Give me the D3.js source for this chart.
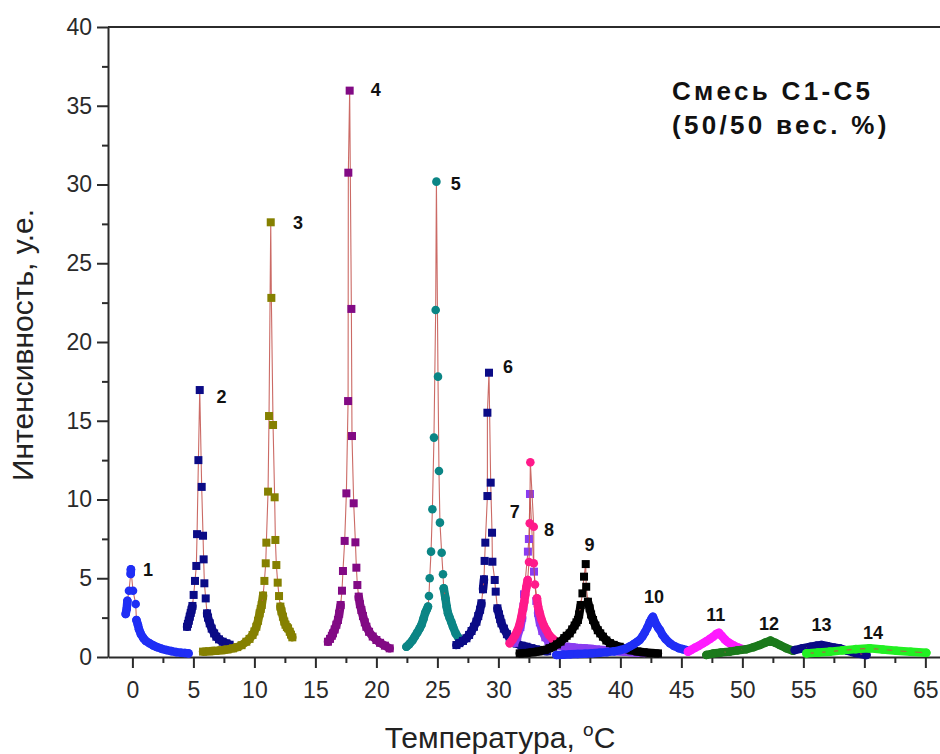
<!DOCTYPE html>
<html>
<head>
<meta charset="utf-8">
<script src="https://cdn.jsdelivr.net/npm/d3@7"></script>
<style>
  body { margin: 0; background: #fff; }
  svg { display: block; }
</style>
</head>
<body>
<div id="chart"></div>
<script>
// peaks: [temperature, intensity]
const peak1 = [[-0.55,2.73],[-0.47,3.05],[-0.41,3.57],[-0.28,4.21],[-0.14,5.27],[-0.12,5.57],[0.05,4.21],[0.27,3.36],[0.33,2.35],[0.45,2.05],[0.54,1.76],[0.7,1.45],[0.9,1.2],[1.1,1.02],[1.4,0.87],[1.7,0.74],[2.0,0.63],[2.4,0.52],[2.8,0.44],[3.2,0.37],[3.6,0.31],[4.0,0.27],[4.3,0.25],[4.6,0.23]];
const peak2 = [[4.48,1.92],[4.55,2.1],[4.62,2.3],[4.7,2.56],[4.78,2.8],[4.85,3.0],[4.92,3.24],[5.02,3.94],[5.13,4.83],[5.24,5.78],[5.3,7.8],[5.41,12.5],[5.52,16.95],[5.68,10.8],[5.79,7.7],[5.84,6.2],[5.9,4.68],[6.01,3.72],[6.12,2.77],[6.2,2.5],[6.34,2.14],[6.5,1.8],[6.7,1.5],[6.88,1.29],[7.1,1.12],[7.4,0.97],[7.7,0.87],[7.97,0.78]];
const peak3 = [[5.79,0.34],[6.3,0.36],[6.8,0.39],[7.3,0.43],[7.8,0.48],[8.25,0.55],[8.6,0.63],[8.95,0.75],[9.34,0.97],[9.6,1.15],[9.85,1.4],[10.0,1.62],[10.16,1.92],[10.3,2.3],[10.43,2.77],[10.52,3.05],[10.6,3.3],[10.71,3.9],[10.82,4.83],[10.93,5.95],[10.98,7.26],[11.12,10.5],[11.2,15.3],[11.34,27.6],[11.39,22.8],[11.53,14.73],[11.66,10.14],[11.72,7.43],[11.8,5.84],[11.91,4.72],[12.02,3.87],[12.13,3.2],[12.22,2.9],[12.34,2.56],[12.45,2.25],[12.55,2.05],[12.66,1.9],[12.76,1.82],[12.9,1.6],[13.0,1.42],[13.11,1.25]];
const peak4 = [[16.03,0.97],[16.2,1.15],[16.35,1.35],[16.44,1.5],[16.58,1.75],[16.72,2.05],[16.85,2.35],[16.95,2.75],[17.07,3.3],[17.18,4.21],[17.26,5.46],[17.4,7.37],[17.54,10.39],[17.68,16.25],[17.7,30.75],[17.81,35.96],[17.95,22.1],[18.0,14.03],[18.14,9.76],[18.28,7.28],[18.36,5.67],[18.44,4.57],[18.55,3.83],[18.65,3.35],[18.77,2.98],[18.9,2.6],[19.05,2.2],[19.18,1.92],[19.4,1.6],[19.7,1.3],[20.0,1.08],[20.3,0.9],[20.7,0.72],[21.09,0.55]];
const peak5 = [[22.46,0.65],[22.7,0.82],[22.95,1.05],[23.14,1.29],[23.35,1.55],[23.55,1.82],[23.69,2.03],[23.85,2.4],[24.0,2.8],[24.12,3.0],[24.23,3.2],[24.31,3.87],[24.37,5.0],[24.48,6.69],[24.59,9.38],[24.72,13.93],[24.86,22.03],[24.92,30.18],[25.05,17.8],[25.13,11.81],[25.21,8.53],[25.35,6.62],[25.46,5.25],[25.52,4.36],[25.66,3.73],[25.76,3.2],[25.87,2.77],[26.0,2.5],[26.15,2.2],[26.28,1.92],[26.5,1.5],[26.75,1.2],[26.97,0.97]];
const peak6 = [[26.56,0.76],[26.8,0.88],[27.1,1.02],[27.38,1.19],[27.6,1.4],[27.8,1.65],[28.0,1.92],[28.2,2.24],[28.35,2.6],[28.5,3.0],[28.61,3.41],[28.74,4.3],[28.82,4.93],[28.87,6.1],[28.93,7.26],[29.1,10.22],[29.1,15.51],[29.23,18.05],[29.37,11.07],[29.48,7.89],[29.51,6.05],[29.7,4.89],[29.78,4.15],[29.92,3.09],[30.05,2.7],[30.15,2.4],[30.25,2.14],[30.45,1.8],[30.7,1.45],[30.93,1.19],[31.2,0.98],[31.5,0.85],[31.9,0.72],[32.3,0.65],[32.7,0.56],[33.1,0.48],[33.5,0.42],[34.0,0.36]];
const peak7 = [[31.3,0.9],[31.55,1.3],[31.8,1.9],[31.95,2.5],[32.05,3.2],[32.1,3.98],[32.42,6.69],[32.5,7.49],[32.59,10.35],[32.92,5.42],[33.11,3.56],[33.25,2.8],[33.4,2.2],[33.6,1.65],[33.85,1.25],[34.1,1.0],[34.5,0.82],[35.0,0.72],[35.5,0.66],[36.0,0.62],[36.5,0.58],[37.0,0.55],[37.5,0.52],[38.0,0.48],[38.5,0.45],[39.0,0.42],[39.5,0.38],[40.0,0.35],[40.5,0.33],[41.0,0.3],[41.5,0.28],[42.0,0.26]];
const peak8 = [[30.93,0.87],[31.15,1.1],[31.35,1.35],[31.55,1.65],[31.72,2.0],[31.89,2.56],[32.0,3.0],[32.12,3.5],[32.2,3.95],[32.3,4.46],[32.4,4.89],[32.51,6.03],[32.57,8.49],[32.62,12.36],[32.9,8.27],[32.9,5.95],[33.0,4.6],[33.16,3.73],[33.25,3.2],[33.39,2.77],[33.55,2.35],[33.75,1.95],[33.93,1.71],[34.15,1.4],[34.45,1.15],[34.75,0.97]];
const peak9 = [[31.75,0.23],[32.3,0.26],[32.8,0.3],[33.3,0.35],[33.8,0.45],[34.2,0.56],[34.48,0.65],[34.8,0.8],[35.1,0.98],[35.4,1.2],[35.6,1.35],[35.84,1.5],[36.05,1.75],[36.25,2.0],[36.4,2.2],[36.52,2.35],[36.62,2.7],[36.75,3.3],[36.89,4.04],[37.02,5.1],[37.16,5.9],[37.2,4.46],[37.34,3.51],[37.48,3.09],[37.6,2.7],[37.76,2.35],[37.95,2.0],[38.15,1.7],[38.35,1.5],[38.57,1.29],[38.85,1.05],[39.15,0.88],[39.45,0.77],[39.94,0.65],[40.4,0.52],[40.9,0.42],[41.4,0.35],[41.9,0.3],[42.5,0.26],[43.08,0.23]];
const peak10 = [[34.75,0.13],[35.3,0.15],[35.9,0.17],[36.5,0.19],[37.1,0.21],[37.7,0.24],[38.3,0.27],[38.9,0.31],[39.5,0.36],[40.0,0.44],[40.49,0.55],[40.8,0.68],[41.1,0.82],[41.35,0.95],[41.58,1.08],[41.8,1.3],[42.0,1.55],[42.2,1.85],[42.4,2.2],[42.55,2.42],[42.67,2.56],[42.8,2.3],[42.95,2.05],[43.1,1.85],[43.24,1.71],[43.45,1.4],[43.7,1.15],[44.06,0.87],[44.4,0.7],[44.8,0.56],[45.1,0.5],[45.4,0.44]];
const peak11 = [[45.54,0.34],[45.8,0.45],[46.1,0.58],[46.4,0.7],[46.77,0.87],[47.05,1.0],[47.35,1.15],[47.6,1.29],[47.85,1.45],[48.08,1.54],[48.3,1.35],[48.55,1.12],[48.75,0.98],[48.96,0.87],[49.3,0.72],[49.65,0.6],[50.05,0.49]];
const peak12 = [[47.05,0.13],[47.6,0.22],[48.2,0.28],[48.96,0.34],[49.6,0.42],[50.33,0.49],[50.9,0.62],[51.42,0.76],[51.9,0.92],[52.3,1.04],[52.7,0.9],[53.06,0.76],[53.6,0.56],[54.15,0.4]];
const peak13 = [[54.3,0.44],[54.9,0.55],[55.6,0.65],[56.1,0.72],[56.48,0.76],[57.0,0.68],[57.5,0.6],[57.98,0.55],[58.6,0.4],[59.3,0.25],[60.17,0.13]];
const peak14 = [[55.25,0.23],[56.2,0.28],[57.16,0.34],[58.2,0.42],[59.3,0.5],[60.43,0.55],[61.5,0.48],[62.62,0.4],[63.8,0.33],[65.08,0.27]];

const peaks = [peak1, peak2, peak3, peak4, peak5, peak6, peak7, peak8, peak9, peak10, peak11, peak12, peak13, peak14];
const peakNames = ["1","2","3","4","5","6","7","8","9","10","11","12","13","14"];
const nameX = [1.28, 7.3, 13.57, 19.94, 26.5, 30.79, 31.34, 34.15, 37.46, 42.75, 47.81, 52.18, 56.48, 60.7];
const nameY = [5.52, 16.53, 27.54, 36.0, 30.03, 18.39, 9.23, 8.06, 7.11, 3.79, 2.67, 2.10, 2.03, 1.54];
const xTicks = d3.range(0, 66, 5);
const yTicks = d3.range(0, 41, 5);

const colors = ["#1f2ef5", "#0b0b86", "#858000", "#820a84", "#0b8585", "#0b0b86", "#8a3cf0",
                "#ff1a8a", "#000000", "#1f2ef5", "#ff1aff", "#1b7a1b", "#0b0b86", "#22f022"];
const shapes = ["c", "s", "s", "s", "c", "s", "s", "c", "s", "c", "c", "c", "c", "c"];

const width = 940, height = 754;
const font = "'Liberation Sans', Arial, sans-serif";

const svg = d3.select("#chart").append("svg")
  .attr("width", width)
  .attr("height", height);
svg.append("rect").attr("width", width).attr("height", height).attr("fill", "#fff");

const x = d3.scaleLinear().domain([-2, 66.2]).range([108, 940]);
const y = d3.scaleLinear().domain([0, 40]).range([657, 27]);

// axes
const axisColor = "#2b2b2b";
svg.append("g").attr("transform", "translate(0,657)")
  .call(d3.axisBottom(x).tickValues(xTicks).tickSize(11).tickSizeOuter(0).tickPadding(14));
svg.append("g").attr("transform", "translate(0,657)")
  .call(d3.axisBottom(x).tickValues(xTicks.map(d => d + 2.5)).tickSize(6).tickFormat(""))
  .select(".domain").remove();
svg.append("g").attr("transform", "translate(108,0)")
  .call(d3.axisLeft(y).tickValues(yTicks).tickSize(11).tickSizeOuter(0).tickPadding(5));
svg.append("g").attr("transform", "translate(108,0)")
  .call(d3.axisLeft(y).tickValues(yTicks.slice(0, -1).map(d => d + 2.5)).tickSize(6).tickFormat(""))
  .select(".domain").remove();
// top frame line
svg.append("line")
  .attr("x1", 108).attr("x2", 940).attr("y1", y(40)).attr("y2", y(40))
  .attr("stroke", axisColor).attr("stroke-width", 2);

svg.selectAll(".domain, .tick line").attr("stroke", axisColor).attr("stroke-width", 2);
svg.selectAll(".tick text")
  .attr("fill", "#2a2a2a")
  .style("font-family", font)
  .style("font-size", "23px");

// series
const line = d3.line().x(d => x(d[0])).y(d => y(d[1]));
const plot = svg.append("g");

peaks.forEach((pts, i) => {
  const g = plot.append("g");
  // dense runs of markers merge into one band
  const runs = [];
  let run = [pts[0]];
  for (let k = 1; k < pts.length; k++) {
    const dx = Math.abs(x(pts[k][0]) - x(pts[k - 1][0]));
    const dy = Math.abs(y(pts[k][1]) - y(pts[k - 1][1]));
    if (dy < 10 && dx < 20) run.push(pts[k]);
    else { runs.push(run); run = [pts[k]]; }
  }
  runs.push(run);
  g.selectAll(".band").data(runs.filter(r => r.length > 1)).enter()
    .append("path")
    .attr("d", line)
    .attr("fill", "none")
    .attr("stroke", colors[i])
    .attr("stroke-width", 8.5)
    .attr("stroke-linecap", "round")
    .attr("stroke-linejoin", "round");

  // thin connecting line
  g.append("path")
    .attr("d", line(pts))
    .attr("fill", "none")
    .attr("stroke", "#c2504a")
    .attr("stroke-width", 1.1)
    .attr("opacity", 0.85);

  if (shapes[i] === "s") {
    g.selectAll("rect").data(pts).enter().append("rect")
      .attr("x", d => x(d[0]) - 4)
      .attr("y", d => y(d[1]) - 4)
      .attr("width", 8).attr("height", 8)
      .attr("fill", colors[i]);
  } else {
    g.selectAll("circle").data(pts).enter().append("circle")
      .attr("cx", d => x(d[0]))
      .attr("cy", d => y(d[1]))
      .attr("r", 4.3)
      .attr("fill", colors[i]);
  }
});

// peak numbers
svg.append("g").selectAll("text").data(peakNames).enter()
  .append("text")
  .attr("x", (d, i) => x(nameX[i]))
  .attr("y", (d, i) => y(nameY[i]))
  .attr("text-anchor", "middle")
  .attr("dominant-baseline", "central")
  .style("font-family", font)
  .style("font-weight", "bold")
  .style("font-size", "18px")
  .attr("fill", "#111")
  .text(d => d);

// annotation
const note = svg.append("text")
  .style("font-family", font)
  .style("font-weight", "bold")
  .style("font-size", "26px")
  .style("letter-spacing", "3.3px")
  .attr("fill", "#111");
note.append("tspan").attr("x", 672).attr("y", 100).text("Смесь С1-С5");
note.append("tspan").attr("x", 672).attr("y", 134).text("(50/50 вес. %)");

// axis titles
svg.append("text")
  .attr("transform", "translate(33,345) rotate(-90)")
  .attr("text-anchor", "middle")
  .style("font-family", font)
  .style("font-size", "30px")
  .attr("fill", "#222")
  .text("Интенсивность, у.е.");

const xt = svg.append("text")
  .attr("x", 500).attr("y", 748)
  .attr("text-anchor", "middle")
  .style("font-family", font)
  .style("font-size", "30px")
  .attr("fill", "#222");
xt.append("tspan").text("Температура, ");
xt.append("tspan").attr("dy", -12).style("font-size", "19px").text("o");
xt.append("tspan").attr("dy", 12).text("C");
</script>
</body>
</html>
